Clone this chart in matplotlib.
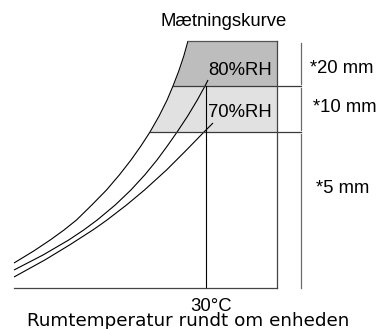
import matplotlib
matplotlib.use('Agg')
import matplotlib.pyplot as plt

plt.rcParams['font.family'] = ['Liberation Sans', 'DejaVu Sans']

# diagram units: x grows to the right (temperature), y grows downward
# saturation curve (edge of the shaded zones)
sat_x = [188, 183.8, 178.8, 173, 167.1, 159.1, 150, 140.9, 131, 119.3,
         106.5, 91.8, 76.5, 64, 50.2, 33.7, 14]
sat_y = [41, 56, 71, 86, 100, 116, 132, 146, 160, 175,
         190, 205, 220, 230, 240, 251, 263]

# 80 %RH curve
rh80_x = [208, 205, 197.3, 187.7, 177.1, 167.3, 157, 144.7, 130.9,
          115.2, 97.2, 83.7, 68.7, 43, 14]
rh80_y = [80, 86, 100, 116, 132, 146, 160, 175, 190,
          205, 220, 230, 240, 255, 270]

# 70 %RH curve
rh70_x = [213, 204, 186.5, 166.5, 144.5, 126.5, 107, 100, 92.8, 69.5, 44.8, 14]
rh70_y = [123, 132, 150, 170, 190, 205, 220, 225, 230, 245, 260, 277]

# zone limits on the moisture axis and the room temperature marks
zone_top = 41
zone_80 = 86
zone_70 = 132
base = 288
t_left = 14
t_30 = 206
t_right = 277
dim_x = 301

zone_labels = ['80%RH', '70%RH']
zone_label_y = [75, 117]
dim_labels = ['*20 mm', '*10 mm', '*5 mm']
dim_label_x = [310, 313, 316]
dim_label_y = [73, 112, 193]

DARK = '#bdbdbd'
LIGHT = '#e1e1e1'
EDGE = '#3a3a3a'
FS = 13.3

fig = plt.figure(figsize=(3.77, 3.29), dpi=100)
ax = fig.add_axes([0, 0, 1, 1])
ax.set_xlim(0, 377)
ax.set_ylim(329, 0)
ax.axis('off')

# shaded zones between the saturation curve and the right edge
i80 = sat_y.index(zone_80)
i70 = sat_y.index(zone_70)
ax.fill_betweenx(sat_y[:i80 + 1], sat_x[:i80 + 1], t_right, color=DARK, lw=0)
ax.fill_betweenx(sat_y[i80:i70 + 1], sat_x[i80:i70 + 1], t_right, color=LIGHT, lw=0)

# curves
for xs, ys in [(sat_x, sat_y), (rh80_x, rh80_y), (rh70_x, rh70_y)]:
    ax.plot(xs, ys, color='black', lw=0.8, solid_capstyle='butt', solid_joinstyle='round')

# frame lines
ax.plot([sat_x[0], t_right], [zone_top, zone_top], color='#555555', lw=0.9)
ax.plot([sat_x[i80], dim_x], [zone_80, zone_80], color=EDGE, lw=0.9)
ax.plot([sat_x[i70], dim_x], [zone_70, zone_70], color=EDGE, lw=0.9)
ax.plot([t_right, t_right], [zone_top, base], color='#444444', lw=0.9)
ax.plot([t_30, t_30], [zone_80, base], color='black', lw=0.8)
ax.plot([t_left, t_right], [base, base], color='#444444', lw=0.9)

# dimension line on the right, split at each zone limit
for y0, y1 in [(zone_top + 2, zone_80 - 2), (zone_80 + 2, zone_70 - 2), (zone_70 + 2, base)]:
    ax.plot([dim_x, dim_x], [y0, y1], color='#6a6a6a', lw=0.9)

# texts
ax.text(224, 26, 'Mætningskurve', ha='center', va='baseline', fontsize=FS)
for lab, y in zip(zone_labels, zone_label_y):
    ax.text(240, y, lab, ha='center', va='baseline', fontsize=FS)
for lab, x, y in zip(dim_labels, dim_label_x, dim_label_y):
    ax.text(x, y, lab, ha='left', va='baseline', fontsize=FS)
ax.text(t_30 + 5, 311, '30°C', ha='center', va='baseline', fontsize=FS)
ax.text(188, 326, 'Rumtemperatur rundt om enheden', ha='center', va='baseline',
        fontsize=13.2, family=['DejaVu Sans'])

fig.savefig('out.png', dpi=100, facecolor='white')
